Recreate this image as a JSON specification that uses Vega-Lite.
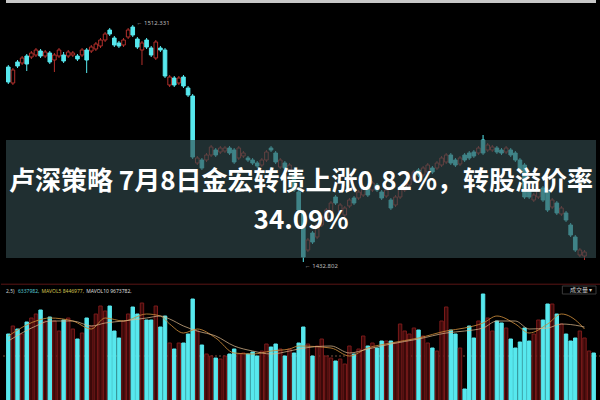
{
"$schema": "https://vega.github.io/schema/vega-lite/v6.json",
"background": "#000000",
"padding": 0,
"spacing": 13,
"config": {"view": {"stroke": null}, "font": "Noto Sans"},
"resolve": {"scale": {"x": "independent", "y": "independent"}},
"datasets": {
"one": [{}],
"k": [
{"i":0,"o":1498.49,"h":1499.15,"l":1492.88,"c":1493.54,"v":670,"dir":"down"},
{"i":1,"o":1493.21,"h":1498.16,"l":1492.55,"c":1497.50,"v":750,"dir":"up"},
{"i":2,"o":1500.14,"h":1500.80,"l":1498.16,"c":1498.82,"v":720,"dir":"down"},
{"i":3,"o":1499.81,"h":1502.12,"l":1499.15,"c":1501.46,"v":670,"dir":"up"},
{"i":4,"o":1502.12,"h":1502.78,"l":1497.17,"c":1499.48,"v":790,"dir":"down"},
{"i":5,"o":1501.79,"h":1503.77,"l":1501.13,"c":1503.11,"v":830,"dir":"up"},
{"i":6,"o":1502.45,"h":1504.76,"l":1501.79,"c":1504.10,"v":870,"dir":"up"},
{"i":7,"o":1503.77,"h":1504.43,"l":1501.46,"c":1502.12,"v":910,"dir":"down"},
{"i":8,"o":1502.12,"h":1504.10,"l":1501.46,"c":1503.44,"v":800,"dir":"up"},
{"i":9,"o":1503.11,"h":1503.77,"l":1499.48,"c":1500.14,"v":840,"dir":"down"},
{"i":10,"o":1500.80,"h":1503.11,"l":1496.84,"c":1502.45,"v":800,"dir":"up"},
{"i":11,"o":1502.12,"h":1504.76,"l":1501.46,"c":1504.10,"v":700,"dir":"up"},
{"i":12,"o":1502.45,"h":1503.44,"l":1499.81,"c":1500.47,"v":810,"dir":"down"},
{"i":13,"o":1502.12,"h":1504.10,"l":1501.46,"c":1503.44,"v":830,"dir":"up"},
{"i":14,"o":1502.45,"h":1503.77,"l":1501.79,"c":1503.11,"v":720,"dir":"up"},
{"i":15,"o":1502.12,"h":1502.78,"l":1500.47,"c":1501.13,"v":620,"dir":"down"},
{"i":16,"o":1502.45,"h":1504.76,"l":1501.79,"c":1504.10,"v":680,"dir":"up"},
{"i":17,"o":1504.10,"h":1504.76,"l":1496.51,"c":1500.80,"v":830,"dir":"down"},
{"i":18,"o":1503.77,"h":1505.75,"l":1503.11,"c":1505.09,"v":750,"dir":"up"},
{"i":19,"o":1504.43,"h":1506.74,"l":1503.77,"c":1506.08,"v":870,"dir":"up"},
{"i":20,"o":1505.42,"h":1508.06,"l":1504.76,"c":1507.40,"v":950,"dir":"up"},
{"i":21,"o":1507.40,"h":1510.04,"l":1506.74,"c":1509.38,"v":900,"dir":"up"},
{"i":22,"o":1510.70,"h":1511.36,"l":1508.72,"c":1509.38,"v":950,"dir":"down"},
{"i":23,"o":1508.06,"h":1508.72,"l":1505.09,"c":1505.75,"v":700,"dir":"down"},
{"i":24,"o":1506.41,"h":1507.07,"l":1504.76,"c":1505.42,"v":630,"dir":"down"},
{"i":25,"o":1505.75,"h":1508.06,"l":1505.09,"c":1507.40,"v":800,"dir":"up"},
{"i":26,"o":1508.39,"h":1511.36,"l":1507.73,"c":1510.70,"v":870,"dir":"up"},
{"i":27,"o":1511.69,"h":1512.35,"l":1508.39,"c":1509.05,"v":940,"dir":"down"},
{"i":28,"o":1507.73,"h":1508.39,"l":1504.43,"c":1505.09,"v":870,"dir":"down"},
{"i":29,"o":1504.10,"h":1507.07,"l":1499.15,"c":1506.41,"v":980,"dir":"up"},
{"i":30,"o":1507.40,"h":1508.06,"l":1504.43,"c":1505.09,"v":810,"dir":"down"},
{"i":31,"o":1504.76,"h":1505.42,"l":1501.79,"c":1502.45,"v":810,"dir":"down"},
{"i":32,"o":1501.46,"h":1507.40,"l":1500.80,"c":1506.74,"v":950,"dir":"up"},
{"i":33,"o":1504.76,"h":1505.42,"l":1503.44,"c":1504.10,"v":740,"dir":"down"},
{"i":34,"o":1504.10,"h":1504.76,"l":1494.86,"c":1495.52,"v":850,"dir":"down"},
{"i":35,"o":1492.55,"h":1495.85,"l":1491.89,"c":1495.19,"v":580,"dir":"up"},
{"i":36,"o":1494.86,"h":1495.52,"l":1491.89,"c":1492.55,"v":520,"dir":"down"},
{"i":37,"o":1493.21,"h":1495.52,"l":1492.55,"c":1494.86,"v":580,"dir":"up"},
{"i":38,"o":1495.19,"h":1495.85,"l":1491.56,"c":1492.22,"v":580,"dir":"down"},
{"i":39,"o":1491.56,"h":1492.22,"l":1488.59,"c":1489.25,"v":670,"dir":"down"},
{"i":40,"o":1488.92,"h":1489.58,"l":1468.13,"c":1468.79,"v":1020,"dir":"down"},
{"i":41,"o":1466.81,"h":1469.12,"l":1466.15,"c":1468.46,"v":700,"dir":"up"},
{"i":42,"o":1467.80,"h":1468.46,"l":1464.50,"c":1465.16,"v":560,"dir":"down"},
{"i":43,"o":1467.80,"h":1470.11,"l":1467.14,"c":1469.45,"v":470,"dir":"up"},
{"i":44,"o":1469.45,"h":1472.75,"l":1468.79,"c":1472.09,"v":450,"dir":"up"},
{"i":45,"o":1471.10,"h":1471.76,"l":1468.79,"c":1469.45,"v":430,"dir":"down"},
{"i":46,"o":1470.44,"h":1472.42,"l":1469.78,"c":1471.76,"v":420,"dir":"up"},
{"i":47,"o":1470.77,"h":1472.42,"l":1470.11,"c":1471.76,"v":450,"dir":"up"},
{"i":48,"o":1471.76,"h":1472.42,"l":1469.45,"c":1470.11,"v":470,"dir":"down"},
{"i":49,"o":1471.10,"h":1471.76,"l":1466.48,"c":1467.14,"v":520,"dir":"down"},
{"i":50,"o":1468.46,"h":1472.42,"l":1467.80,"c":1471.76,"v":470,"dir":"up"},
{"i":51,"o":1469.12,"h":1470.77,"l":1468.46,"c":1470.11,"v":480,"dir":"up"},
{"i":52,"o":1468.46,"h":1469.12,"l":1467.14,"c":1467.80,"v":470,"dir":"down"},
{"i":53,"o":1467.80,"h":1468.46,"l":1466.15,"c":1466.81,"v":490,"dir":"down"},
{"i":54,"o":1466.81,"h":1467.47,"l":1465.16,"c":1465.82,"v":450,"dir":"down"},
{"i":55,"o":1466.15,"h":1468.46,"l":1465.49,"c":1467.80,"v":500,"dir":"up"},
{"i":56,"o":1467.80,"h":1471.10,"l":1467.14,"c":1470.44,"v":570,"dir":"up"},
{"i":57,"o":1471.76,"h":1472.42,"l":1470.44,"c":1471.10,"v":540,"dir":"down"},
{"i":58,"o":1470.11,"h":1470.77,"l":1466.48,"c":1467.14,"v":570,"dir":"down"},
{"i":59,"o":1465.49,"h":1468.46,"l":1464.83,"c":1467.80,"v":520,"dir":"up"},
{"i":60,"o":1466.81,"h":1467.47,"l":1464.50,"c":1465.16,"v":450,"dir":"down"},
{"i":61,"o":1464.50,"h":1466.81,"l":1463.84,"c":1466.15,"v":520,"dir":"up"},
{"i":62,"o":1462.85,"h":1463.51,"l":1457.24,"c":1457.90,"v":480,"dir":"down"},
{"i":63,"o":1457.24,"h":1457.90,"l":1450.64,"c":1451.30,"v":580,"dir":"down"},
{"i":64,"o":1450.64,"h":1451.30,"l":1434.14,"c":1435.79,"v":740,"dir":"down"},
{"i":65,"o":1438.10,"h":1442.06,"l":1437.44,"c":1441.40,"v":570,"dir":"up"},
{"i":66,"o":1443.71,"h":1444.37,"l":1440.08,"c":1440.74,"v":450,"dir":"down"},
{"i":67,"o":1442.39,"h":1447.01,"l":1441.73,"c":1446.35,"v":550,"dir":"up"},
{"i":68,"o":1446.35,"h":1449.65,"l":1445.69,"c":1448.99,"v":620,"dir":"up"},
{"i":69,"o":1448.66,"h":1451.96,"l":1448.00,"c":1451.30,"v":450,"dir":"up"},
{"i":70,"o":1450.64,"h":1454.27,"l":1449.98,"c":1453.61,"v":430,"dir":"up"},
{"i":71,"o":1455.59,"h":1456.25,"l":1452.95,"c":1453.61,"v":400,"dir":"down"},
{"i":72,"o":1450.64,"h":1453.61,"l":1449.98,"c":1452.95,"v":420,"dir":"up"},
{"i":73,"o":1449.65,"h":1452.62,"l":1448.99,"c":1451.96,"v":370,"dir":"up"},
{"i":74,"o":1452.62,"h":1455.26,"l":1451.96,"c":1454.60,"v":550,"dir":"up"},
{"i":75,"o":1455.26,"h":1455.92,"l":1452.95,"c":1453.61,"v":470,"dir":"down"},
{"i":76,"o":1455.26,"h":1457.90,"l":1454.60,"c":1457.24,"v":520,"dir":"up"},
{"i":77,"o":1456.25,"h":1459.55,"l":1455.59,"c":1458.89,"v":650,"dir":"up"},
{"i":78,"o":1458.56,"h":1459.22,"l":1455.59,"c":1456.25,"v":550,"dir":"down"},
{"i":79,"o":1457.90,"h":1460.87,"l":1457.24,"c":1460.21,"v":580,"dir":"up"},
{"i":80,"o":1459.55,"h":1460.21,"l":1457.24,"c":1457.90,"v":530,"dir":"down"},
{"i":81,"o":1457.24,"h":1457.90,"l":1454.60,"c":1455.26,"v":600,"dir":"down"},
{"i":82,"o":1455.92,"h":1458.56,"l":1455.26,"c":1457.90,"v":600,"dir":"up"},
{"i":83,"o":1454.60,"h":1455.26,"l":1451.30,"c":1451.96,"v":600,"dir":"down"},
{"i":84,"o":1452.95,"h":1456.25,"l":1452.29,"c":1455.59,"v":580,"dir":"up"},
{"i":85,"o":1455.59,"h":1459.22,"l":1454.93,"c":1458.56,"v":770,"dir":"up"},
{"i":86,"o":1457.90,"h":1460.87,"l":1457.24,"c":1460.21,"v":700,"dir":"up"},
{"i":87,"o":1459.55,"h":1462.52,"l":1458.89,"c":1461.86,"v":670,"dir":"up"},
{"i":88,"o":1461.20,"h":1464.50,"l":1460.54,"c":1463.84,"v":730,"dir":"up"},
{"i":89,"o":1464.50,"h":1465.16,"l":1462.19,"c":1462.85,"v":710,"dir":"down"},
{"i":90,"o":1462.85,"h":1465.82,"l":1462.19,"c":1465.16,"v":650,"dir":"up"},
{"i":91,"o":1463.84,"h":1466.81,"l":1463.18,"c":1466.15,"v":580,"dir":"up"},
{"i":92,"o":1465.16,"h":1465.82,"l":1463.18,"c":1463.84,"v":530,"dir":"down"},
{"i":93,"o":1465.16,"h":1467.47,"l":1464.50,"c":1466.81,"v":500,"dir":"up"},
{"i":94,"o":1466.15,"h":1469.12,"l":1465.49,"c":1468.46,"v":800,"dir":"up"},
{"i":95,"o":1467.14,"h":1470.11,"l":1466.48,"c":1469.45,"v":940,"dir":"up"},
{"i":96,"o":1469.45,"h":1470.11,"l":1466.15,"c":1466.81,"v":710,"dir":"down"},
{"i":97,"o":1467.80,"h":1468.46,"l":1465.49,"c":1466.15,"v":670,"dir":"down"},
{"i":98,"o":1466.48,"h":1469.12,"l":1465.82,"c":1468.46,"v":530,"dir":"up"},
{"i":99,"o":1469.45,"h":1470.11,"l":1467.14,"c":1467.80,"v":120,"dir":"down"},
{"i":100,"o":1470.11,"h":1470.77,"l":1467.80,"c":1468.46,"v":750,"dir":"down"},
{"i":101,"o":1470.44,"h":1471.10,"l":1468.46,"c":1469.12,"v":630,"dir":"down"},
{"i":102,"o":1470.11,"h":1472.42,"l":1469.45,"c":1471.76,"v":800,"dir":"up"},
{"i":103,"o":1474.40,"h":1476.05,"l":1469.45,"c":1470.11,"v":1070,"dir":"down"},
{"i":104,"o":1471.10,"h":1473.41,"l":1470.44,"c":1472.75,"v":830,"dir":"up"},
{"i":105,"o":1471.10,"h":1472.75,"l":1470.44,"c":1472.09,"v":700,"dir":"up"},
{"i":106,"o":1471.76,"h":1472.42,"l":1469.78,"c":1470.44,"v":800,"dir":"down"},
{"i":107,"o":1471.10,"h":1471.76,"l":1469.45,"c":1470.11,"v":780,"dir":"down"},
{"i":108,"o":1470.44,"h":1472.42,"l":1469.78,"c":1471.76,"v":730,"dir":"up"},
{"i":109,"o":1471.10,"h":1471.76,"l":1468.79,"c":1469.45,"v":620,"dir":"down"},
{"i":110,"o":1470.11,"h":1470.77,"l":1467.14,"c":1467.80,"v":530,"dir":"down"},
{"i":111,"o":1467.80,"h":1468.46,"l":1463.84,"c":1464.50,"v":590,"dir":"down"},
{"i":112,"o":1466.15,"h":1466.81,"l":1454.93,"c":1455.59,"v":730,"dir":"down"},
{"i":113,"o":1457.90,"h":1458.56,"l":1454.93,"c":1455.59,"v":600,"dir":"down"},
{"i":114,"o":1454.60,"h":1456.91,"l":1453.94,"c":1456.25,"v":670,"dir":"up"},
{"i":115,"o":1455.59,"h":1458.56,"l":1454.93,"c":1457.90,"v":810,"dir":"up"},
{"i":116,"o":1458.56,"h":1459.22,"l":1453.94,"c":1454.60,"v":810,"dir":"down"},
{"i":117,"o":1457.90,"h":1458.56,"l":1450.64,"c":1451.30,"v":970,"dir":"down"},
{"i":118,"o":1452.29,"h":1455.26,"l":1451.63,"c":1454.60,"v":970,"dir":"up"},
{"i":119,"o":1453.61,"h":1454.27,"l":1449.65,"c":1450.31,"v":870,"dir":"down"},
{"i":120,"o":1449.98,"h":1452.62,"l":1449.32,"c":1451.96,"v":770,"dir":"up"},
{"i":121,"o":1450.31,"h":1450.97,"l":1447.34,"c":1448.00,"v":670,"dir":"down"},
{"i":122,"o":1446.35,"h":1447.01,"l":1442.39,"c":1443.05,"v":600,"dir":"down"},
{"i":123,"o":1442.39,"h":1443.05,"l":1437.44,"c":1438.10,"v":630,"dir":"down"},
{"i":124,"o":1436.45,"h":1438.76,"l":1435.79,"c":1438.10,"v":700,"dir":"up"},
{"i":125,"o":1436.12,"h":1438.10,"l":1434.80,"c":1437.44,"v":630,"dir":"up"},
{"i":126,"v":500,"dir":"up"},
{"i":127,"v":480,"dir":"down"}
],
"ma": [
{"i":0,"ma5":650,"ma10":600},
{"i":6,"ma5":800,"ma10":750},
{"i":9,"ma5":830,"ma10":800},
{"i":14,"ma5":800,"ma10":800},
{"i":18,"ma5":720,"ma10":750},
{"i":21,"ma5":830,"ma10":780},
{"i":25,"ma5":800,"ma10":800},
{"i":30,"ma5":870,"ma10":830},
{"i":33,"ma5":850,"ma10":850},
{"i":35,"ma5":770,"ma10":820},
{"i":38,"ma5":680,"ma10":750},
{"i":41,"ma5":720,"ma10":700},
{"i":45,"ma5":630,"ma10":650},
{"i":49,"ma5":480,"ma10":550},
{"i":53,"ma5":470,"ma10":500},
{"i":57,"ma5":500,"ma10":470},
{"i":61,"ma5":520,"ma10":500},
{"i":63,"ma5":550,"ma10":520},
{"i":70,"ma5":530,"ma10":550},
{"i":74,"ma5":450,"ma10":480},
{"i":78,"ma5":530,"ma10":520},
{"i":83,"ma5":580,"ma10":570},
{"i":89,"ma5":630,"ma10":620},
{"i":95,"ma5":700,"ma10":680},
{"i":99,"ma5":730,"ma10":700},
{"i":103,"ma5":780,"ma10":730},
{"i":106,"ma5":850,"ma10":800},
{"i":110,"ma5":770,"ma10":800},
{"i":113,"ma5":680,"ma10":720},
{"i":117,"ma5":770,"ma10":730},
{"i":120,"ma5":870,"ma10":770},
{"i":124,"ma5":770,"ma10":750},
{"i":125,"ma5":720,"ma10":740}
]
},
"vconcat": [
{
"width": 600,
"height": 270,
"layer": [
{
"data": {"name": "one"},
"mark": {"type": "rect", "fill": "#c8c8c8"},
"encoding": {
"x": {"datum": -0.5, "type": "quantitative", "scale": {"domain": [-0.5, 127.5], "nice": false, "zero": false}, "axis": null},
"x2": {"datum": 127.5},
"y": {"datum": 1519.6, "type": "quantitative", "scale": {"domain": [1431.5, 1520.6], "nice": false, "zero": false}, "axis": null},
"y2": {"datum": 1520.6}
}
},
{
"data": {"name": "k"},
"transform": [{"filter": "isValid(datum.o)"}],
"mark": {"type": "rule", "strokeWidth": 1},
"encoding": {
"x": {"field": "i", "type": "quantitative"},
"y": {"field": "l", "type": "quantitative"},
"y2": {"field": "h"},
"color": {"condition": {"test": "datum.dir === 'up'", "value": "#b3302c"}, "value": "#57e8ee"}
}
},
{
"data": {"name": "k"},
"transform": [{"filter": "isValid(datum.o)"}],
"mark": {"type": "bar", "width": 3.6, "strokeWidth": 1},
"encoding": {
"x": {"field": "i", "type": "quantitative"},
"y": {"field": "o", "type": "quantitative"},
"y2": {"field": "c"},
"fill": {"condition": {"test": "datum.dir === 'up'", "value": "#000000"}, "value": "#57e8ee"},
"stroke": {"condition": {"test": "datum.dir === 'up'", "value": "#b3302c"}, "value": "#57e8ee"}
}
},
{
"data": {"name": "one"},
"mark": {"type": "text", "align": "left", "baseline": "middle", "fontSize": 6, "color": "#bbbbbb"},
"encoding": {
"x": {"datum": 27.8, "type": "quantitative"},
"y": {"datum": 1513.0, "type": "quantitative"},
"text": {"value": "← 1512.331"}
}
},
{
"data": {"name": "one"},
"mark": {"type": "text", "align": "left", "baseline": "middle", "fontSize": 6, "color": "#bbbbbb"},
"encoding": {
"x": {"datum": 64.3, "type": "quantitative"},
"y": {"datum": 1432.8, "type": "quantitative"},
"text": {"value": "← 1432.802"}
}
},
{
"data": {"name": "one"},
"mark": {"type": "rect", "fill": "#32494d", "fillOpacity": 0.64, "strokeWidth": 0},
"encoding": {
"x": {"datum": -0.5, "type": "quantitative"},
"x2": {"datum": 127.5},
"y": {"datum": 1435.46, "type": "quantitative"},
"y2": {"datum": 1474.4}
}
},
{
"data": {"name": "one"},
"mark": {"type": "text", "align": "center", "baseline": "middle", "font": "Noto Sans CJK SC", "fontWeight": "bold", "fontSize": 26, "color": "#ffffff"},
"encoding": {
"x": {"datum": 63.5, "type": "quantitative"},
"y": {"datum": 1460.54, "type": "quantitative"},
"text": {"value": "卢深策略 7月8日金宏转债上涨0.82%，转股溢价率"}
}
},
{
"data": {"name": "one"},
"mark": {"type": "text", "align": "center", "baseline": "middle", "font": "Noto Sans CJK SC", "fontWeight": "bold", "fontSize": 26, "color": "#ffffff"},
"encoding": {
"x": {"datum": 63.5, "type": "quantitative"},
"y": {"datum": 1447.67, "type": "quantitative"},
"text": {"value": "34.09%"}
}
}
]
},
{
"width": 600,
"height": 117,
"layer": [
{
"data": {"name": "one"},
"mark": {"type": "rule", "color": "#5a1515", "strokeWidth": 1},
"encoding": {
"y": {"datum": 1168, "type": "quantitative", "scale": {"domain": [0, 1170], "nice": false, "zero": true}, "axis": null}
}
},
{
"data": {"name": "one"},
"mark": {"type": "rule", "color": "#7a5040", "strokeWidth": 1, "strokeDash": [2, 2]},
"encoding": {
"y": {"datum": 450, "type": "quantitative"}
}
},
{
"data": {"name": "k"},
"mark": {"type": "bar", "width": 3.4, "strokeWidth": 1},
"encoding": {
"x": {"field": "i", "type": "quantitative", "scale": {"domain": [-0.5, 127.5], "nice": false, "zero": false}, "axis": null},
"y": {"field": "v", "type": "quantitative"},
"fill": {"condition": {"test": "datum.dir === 'up'", "value": "#3a0909"}, "value": "#57e8ee"},
"stroke": {"condition": {"test": "datum.dir === 'up'", "value": "#7a1a1a"}, "value": "#57e8ee"}
}
},
{
"data": {"name": "ma"},
"mark": {"type": "line", "color": "#c98a3a", "strokeWidth": 1, "interpolate": "monotone", "opacity": 0.85},
"encoding": {
"x": {"field": "i", "type": "quantitative"},
"y": {"field": "ma5", "type": "quantitative"}
}
},
{
"data": {"name": "ma"},
"mark": {"type": "line", "color": "#d8b48a", "strokeWidth": 1, "interpolate": "monotone", "opacity": 0.75},
"encoding": {
"x": {"field": "i", "type": "quantitative"},
"y": {"field": "ma10", "type": "quantitative"}
}
},
{
"data": {"name": "one"},
"mark": {"type": "text", "align": "left", "baseline": "middle", "fontSize": 5, "color": "#cccccc"},
"encoding": {"x": {"datum": -0.5, "type": "quantitative"}, "y": {"datum": 1100, "type": "quantitative"}, "text": {"value": "2,5)"}}
},
{
"data": {"name": "one"},
"mark": {"type": "text", "align": "left", "baseline": "middle", "fontSize": 5, "color": "#57c8d0"},
"encoding": {"x": {"datum": 2.1, "type": "quantitative"}, "y": {"datum": 1100, "type": "quantitative"}, "text": {"value": "6337982,"}}
},
{
"data": {"name": "one"},
"mark": {"type": "text", "align": "left", "baseline": "middle", "fontSize": 5, "color": "#d0c050"},
"encoding": {"x": {"datum": 7.2, "type": "quantitative"}, "y": {"datum": 1100, "type": "quantitative"}, "text": {"value": "MAVOL5 8446977,"}}
},
{
"data": {"name": "one"},
"mark": {"type": "text", "align": "left", "baseline": "middle", "fontSize": 5, "color": "#dddddd"},
"encoding": {"x": {"datum": 16.9, "type": "quantitative"}, "y": {"datum": 1100, "type": "quantitative"}, "text": {"value": "MAVOL10 9673782,"}}
},
{
"data": {"name": "one"},
"mark": {"type": "rect", "fill": "#000000", "stroke": "#3a3a3a", "strokeWidth": 1},
"encoding": {"x": {"datum": 120.2, "type": "quantitative"}, "x2": {"datum": 127.5}, "y": {"datum": 1070, "type": "quantitative"}, "y2": {"datum": 1150}}
},
{
"data": {"name": "one"},
"mark": {"type": "text", "align": "center", "baseline": "middle", "fontSize": 6, "font": "Noto Sans CJK SC", "color": "#cccccc"},
"encoding": {"x": {"datum": 124.3, "type": "quantitative"}, "y": {"datum": 1110, "type": "quantitative"}, "text": {"value": "成交量 ▾"}}
}
]
}
]
}
